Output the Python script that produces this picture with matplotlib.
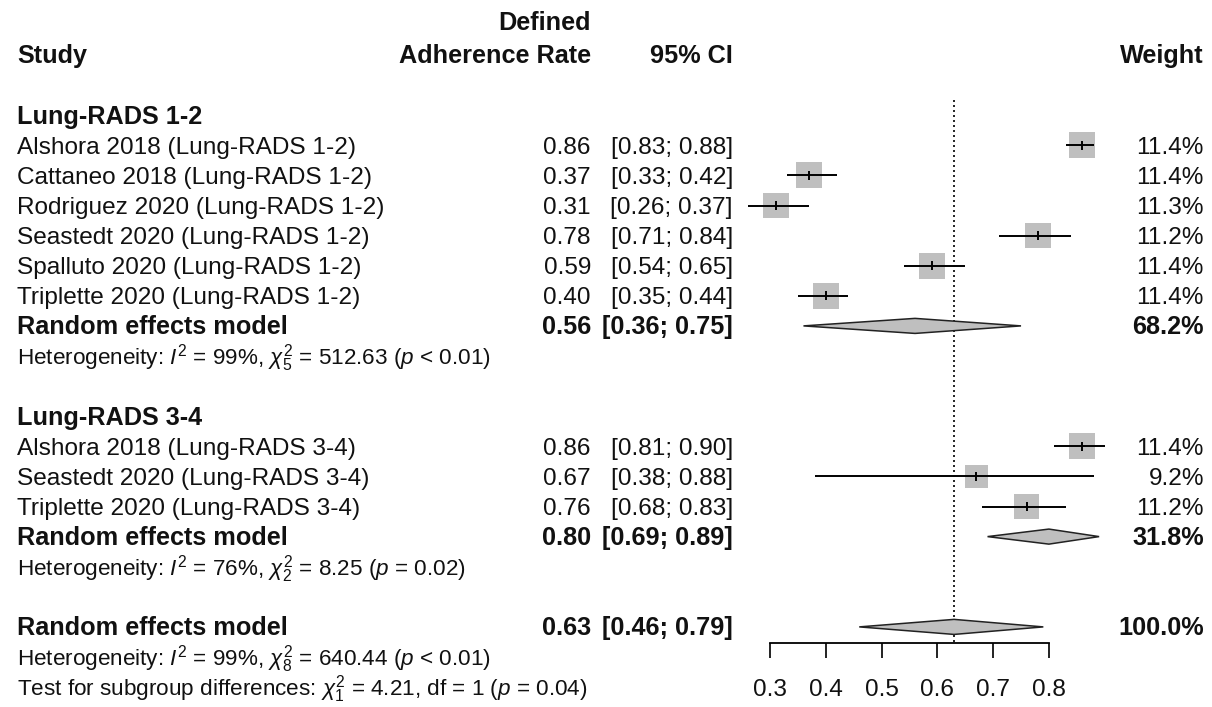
import matplotlib
matplotlib.use("Agg")
import matplotlib.pyplot as plt
from matplotlib.patches import Rectangle, Polygon
from matplotlib.transforms import blended_transform_factory
import numpy as np

plt.rcParams['font.family'] = ['Liberation Sans', 'DejaVu Sans']
plt.rcParams['mathtext.fontset'] = 'custom'
plt.rcParams['mathtext.rm'] = 'Liberation Sans'
plt.rcParams['mathtext.it'] = 'Liberation Sans:italic'
plt.rcParams['mathtext.bf'] = 'Liberation Sans:bold'

# ---- data ----
group_titles = ["Lung-RADS 1-2", "Lung-RADS 3-4"]

studies_g1 = ["Alshora 2018 (Lung-RADS 1-2)", "Cattaneo 2018 (Lung-RADS 1-2)",
              "Rodriguez 2020 (Lung-RADS 1-2)", "Seastedt 2020 (Lung-RADS 1-2)",
              "Spalluto 2020 (Lung-RADS 1-2)", "Triplette 2020 (Lung-RADS 1-2)"]
est_g1 = [0.86, 0.37, 0.31, 0.78, 0.59, 0.40]
lci_g1 = [0.83, 0.33, 0.26, 0.71, 0.54, 0.35]
uci_g1 = [0.88, 0.42, 0.37, 0.84, 0.65, 0.44]
wt_g1 = [11.4, 11.4, 11.3, 11.2, 11.4, 11.4]

studies_g2 = ["Alshora 2018 (Lung-RADS 3-4)", "Seastedt 2020 (Lung-RADS 3-4)",
              "Triplette 2020 (Lung-RADS 3-4)"]
est_g2 = [0.86, 0.67, 0.76]
lci_g2 = [0.81, 0.38, 0.68]
uci_g2 = [0.90, 0.88, 0.83]
wt_g2 = [11.4, 9.2, 11.2]

re_est = [0.56, 0.80]
re_lci = [0.36, 0.69]
re_uci = [0.75, 0.89]
re_wt = [68.2, 31.8]

overall_est = 0.63
overall_lci = 0.46
overall_uci = 0.79
overall_wt = 100.0

# I^2 (%), df, Q, p-value text
het_g1 = (99, 5, 512.63, "< 0.01")
het_g2 = (76, 2, 8.25, "= 0.02")
het_all = (99, 8, 640.44, "< 0.01")
subgroup_test = (1, 4.21, 1, "= 0.04")

x_ticks = [0.3, 0.4, 0.5, 0.6, 0.7, 0.8]

# ---- layout (pixels) ----
W, H = 1212, 707
FS = 17.6          # regular text
FSB = 18.2         # bold text
FSH = 16.2         # heterogeneity and subgroup test lines
px_per_unit = 557.8            # horizontal pixels per unit of proportion
x0_px = 770                    # pixel position of 0.30
row_px = 30.1                  # vertical pixels per row
row0_px = 55                   # pixel position of header row

col_study = 17
col_est = 591
col_ci = 733
col_wt = 1204

fig = plt.figure(figsize=(W / 100, H / 100), dpi=100)
ax = fig.add_axes([0, 0, 1, 1])
ax.set_xlim(0.3 - x0_px / px_per_unit, 0.3 + (W - x0_px) / px_per_unit)
ax.set_ylim((H - row0_px) / row_px, -row0_px / row_px)
ax.axis('off')

tr = blended_transform_factory(fig.transFigure, ax.transData)
BASE = 0.28  # baseline offset below row centre


def txt(px, row, s, ha='left', bold=False, size=None):
    if size is None:
        size = FSB if bold else FS
    ax.text(px / W, row + BASE, s, transform=tr, ha=ha, va='baseline',
            fontsize=size, fontweight='bold' if bold else 'normal', color='#111111')


def het_text(h):
    i2, df, q, p = h
    return (r"Heterogeneity: $\mathit{I}^{2}$ = %d%%, $\chi^{2}_{%d}$ = %.2f ($\mathit{p}$ %s)"
            % (i2, df, q, p))


def study_row(row, name, e, l, u, w):
    txt(col_study, row, name)
    txt(col_est, row, f"{e:.2f}", ha='right')
    txt(col_ci, row, f"[{l:.2f}; {u:.2f}]", ha='right')
    txt(col_wt, row, f"{w:.1f}%", ha='right')
    side = 26 * np.sqrt(w / 11.4)
    sw, sh = side / px_per_unit, side / row_px
    ax.add_patch(Rectangle((e - sw / 2, row - sh / 2), sw, sh,
                           facecolor='#bfbfbf', edgecolor='none', zorder=2))
    ax.hlines(row, l, u, color='black', lw=1.4, zorder=3)
    ax.vlines(e, row - 0.15, row + 0.15, color='black', lw=1.4, zorder=3)


def summary_row(row, label, e, l, u, w):
    txt(col_study, row, label, bold=True)
    txt(col_est, row, f"{e:.2f}", ha='right', bold=True)
    txt(col_ci, row, f"[{l:.2f}; {u:.2f}]", ha='right', bold=True)
    txt(col_wt, row, f"{w:.1f}%", ha='right', bold=True)
    hh = 0.25
    ax.add_patch(Polygon([(l, row), (e, row - hh), (u, row), (e, row + hh)],
                         closed=True, facecolor='#bfbfbf', edgecolor='#222222',
                         lw=1.1, zorder=3))


# header
txt(col_study, 0, "Study", bold=True)
txt(col_est, -1.1, "Defined", ha='right', bold=True)
txt(col_est, 0, "Adherence Rate", ha='right', bold=True)
txt(col_ci, 0, "95% CI", ha='right', bold=True)
txt(col_wt, 0, "Weight", ha='right', bold=True)

# group 1
txt(col_study, 2, group_titles[0], bold=True)
for i, (n, e, l, u, w) in enumerate(zip(studies_g1, est_g1, lci_g1, uci_g1, wt_g1)):
    study_row(3 + i, n, e, l, u, w)
summary_row(9, "Random effects model", re_est[0], re_lci[0], re_uci[0], re_wt[0])
txt(col_study, 10, het_text(het_g1), size=FSH)

# group 2
txt(col_study, 12, group_titles[1], bold=True)
for i, (n, e, l, u, w) in enumerate(zip(studies_g2, est_g2, lci_g2, uci_g2, wt_g2)):
    study_row(13 + i, n, e, l, u, w)
summary_row(16, "Random effects model", re_est[1], re_lci[1], re_uci[1], re_wt[1])
txt(col_study, 17, het_text(het_g2), size=FSH)

# overall
summary_row(19, "Random effects model", overall_est, overall_lci, overall_uci, overall_wt)
txt(col_study, 20, het_text(het_all), size=FSH)
sdf, sq, dfv, sp = subgroup_test
txt(col_study, 21, r"Test for subgroup differences: $\chi^{2}_{%d}$ = %.2f, df = %d ($\mathit{p}$ %s)"
    % (sdf, sq, dfv, sp), size=FSH)

# reference line at the overall estimate
ax.vlines(overall_est, 1.5, 19.5, color='black', lw=1.2, linestyles=(0, (1.2, 1.8)), zorder=1)

# x axis
axx = fig.add_axes([x0_px / W, 1 - 643 / H, (x_ticks[-1] - x_ticks[0]) * px_per_unit / W, 0.0001])
axx.set_xlim(x_ticks[0], x_ticks[-1])
axx.set_xticks(x_ticks)
axx.set_xticklabels([f"{t:.1f}" for t in x_ticks])
axx.set_yticks([])
axx.patch.set_alpha(0)
for s in ('top', 'left', 'right'):
    axx.spines[s].set_visible(False)
axx.spines['bottom'].set_linewidth(1.3)
axx.tick_params(axis='x', direction='out', length=11, width=1.3, pad=15,
                labelsize=FS, colors='#111111')

fig.savefig("out.png", dpi=100)
